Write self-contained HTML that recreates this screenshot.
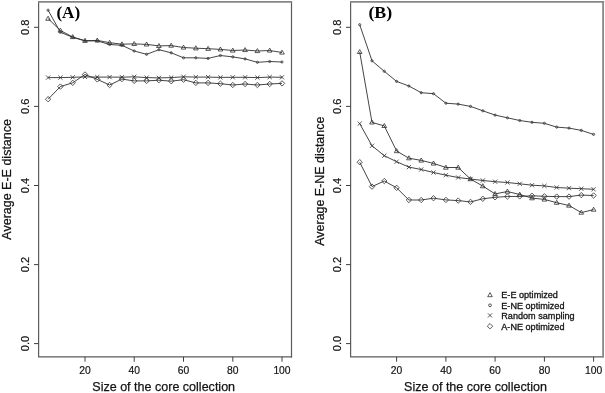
<!DOCTYPE html>
<html><head><meta charset="utf-8"><title>Figure</title>
<style>
html,body{margin:0;padding:0;background:#fff;}
body{width:605px;height:393px;overflow:hidden;}
svg{display:block;will-change:transform;opacity:0.999;font-family:"Liberation Sans",sans-serif;}
svg text{fill:#141414;}
</style></head><body>
<svg width="605" height="393" viewBox="0 0 605 393">
<rect width="605" height="393" fill="#fff"/>
<path d="M38.6 1.0999999999999999V357.5M38.0 356.85H292.1" fill="none" stroke="#5c5c5c" stroke-width="1.2"/>
<path d="M291.5 1.0999999999999999V357.5" fill="none" stroke="#5c5c5c" stroke-width="1.2"/>
<path d="M38.0 1.9H292.1" fill="none" stroke="#868686" stroke-width="1.6"/>
<path d="M34.0 343.6H38.6M34.0 264.6H38.6M34.0 185.5H38.6M34.0 106.4H38.6M34.0 27.3H38.6M85.0 356.85V361.7M134.2 356.85V361.7M183.5 356.85V361.7M232.8 356.85V361.7M282.0 356.85V361.7" fill="none" stroke="#404040" stroke-width="1"/>
<text transform="translate(29.0 343.6) rotate(-90)" text-anchor="middle" font-size="11" stroke="#141414" stroke-width="0.2">0.0</text>
<text transform="translate(29.0 264.6) rotate(-90)" text-anchor="middle" font-size="11" stroke="#141414" stroke-width="0.2">0.2</text>
<text transform="translate(29.0 185.5) rotate(-90)" text-anchor="middle" font-size="11" stroke="#141414" stroke-width="0.2">0.4</text>
<text transform="translate(29.0 106.4) rotate(-90)" text-anchor="middle" font-size="11" stroke="#141414" stroke-width="0.2">0.6</text>
<text transform="translate(29.0 27.3) rotate(-90)" text-anchor="middle" font-size="11" stroke="#141414" stroke-width="0.2">0.8</text>
<text transform="translate(85.0 373.9) scale(0.94 1.05)" text-anchor="middle" font-size="11" stroke="#141414" stroke-width="0.2">20</text>
<text transform="translate(134.2 373.9) scale(0.94 1.05)" text-anchor="middle" font-size="11" stroke="#141414" stroke-width="0.2">40</text>
<text transform="translate(183.5 373.9) scale(0.94 1.05)" text-anchor="middle" font-size="11" stroke="#141414" stroke-width="0.2">60</text>
<text transform="translate(232.8 373.9) scale(0.94 1.05)" text-anchor="middle" font-size="11" stroke="#141414" stroke-width="0.2">80</text>
<text transform="translate(282.0 373.9) scale(0.94 1.05)" text-anchor="middle" font-size="11" stroke="#141414" stroke-width="0.2">100</text>
<text x="163.7" y="391" text-anchor="middle" font-size="12.5" textLength="142.8" lengthAdjust="spacingAndGlyphs" stroke="#141414" stroke-width="0.25">Size of the core collection</text>
<text transform="translate(10.6 179.35) rotate(-90)" text-anchor="middle" font-size="12.5" textLength="120.6" lengthAdjust="spacingAndGlyphs" stroke="#141414" stroke-width="0.25">Average E-E distance</text>
<text x="56.4" y="18.4" font-family="'Liberation Serif', serif" font-weight="bold" font-size="16.5" textLength="23.8" lengthAdjust="spacingAndGlyphs" style="fill:#000">(A)</text>
<polyline points="48.1,77.6 60.4,77.6 72.7,77.3 85.0,76.9 97.3,77.1 109.6,77.1 121.9,77.2 134.2,76.8 146.6,77.6 158.9,77.9 171.2,77.6 183.5,76.8 195.8,77.1 208.1,77.1 220.4,77.4 232.8,77.3 245.1,77.3 257.4,77.6 269.7,77.1 282.0,77.3" fill="none" stroke="#303030" stroke-width="0.9"/><g fill="none" stroke="#303030" stroke-width="0.8"><path d="M46.0 75.5L50.2 79.7M46.0 79.7L50.2 75.5"/><path d="M58.3 75.5L62.5 79.7M58.3 79.7L62.5 75.5"/><path d="M70.6 75.2L74.8 79.4M70.6 79.4L74.8 75.2"/><path d="M82.9 74.8L87.1 79.0M82.9 79.0L87.1 74.8"/><path d="M95.2 75.0L99.4 79.2M95.2 79.2L99.4 75.0"/><path d="M107.5 75.0L111.7 79.2M107.5 79.2L111.7 75.0"/><path d="M119.8 75.1L124.0 79.3M119.8 79.3L124.0 75.1"/><path d="M132.2 74.7L136.3 78.9M132.2 78.9L136.3 74.7"/><path d="M144.5 75.5L148.7 79.7M144.5 79.7L148.7 75.5"/><path d="M156.8 75.8L161.0 80.0M156.8 80.0L161.0 75.8"/><path d="M169.1 75.5L173.3 79.7M169.1 79.7L173.3 75.5"/><path d="M181.4 74.7L185.6 78.9M181.4 78.9L185.6 74.7"/><path d="M193.7 75.0L197.9 79.2M193.7 79.2L197.9 75.0"/><path d="M206.0 75.0L210.2 79.2M206.0 79.2L210.2 75.0"/><path d="M218.3 75.3L222.5 79.5M218.3 79.5L222.5 75.3"/><path d="M230.7 75.2L234.8 79.4M230.7 79.4L234.8 75.2"/><path d="M243.0 75.2L247.2 79.4M243.0 79.4L247.2 75.2"/><path d="M255.3 75.5L259.5 79.7M255.3 79.7L259.5 75.5"/><path d="M267.6 75.0L271.8 79.2M267.6 79.2L271.8 75.0"/><path d="M279.9 75.2L284.1 79.4M279.9 79.4L284.1 75.2"/></g>
<polyline points="48.1,99.2 60.4,86.6 72.7,82.8 85.0,74.5 97.3,79.4 109.6,85.0 121.9,79.1 134.2,80.9 146.6,80.9 158.9,80.2 171.2,81.2 183.5,79.7 195.8,82.9 208.1,82.9 220.4,83.7 232.8,85.0 245.1,84.0 257.4,85.0 269.7,84.0 282.0,83.4" fill="none" stroke="#303030" stroke-width="0.9"/><g fill="none" stroke="#303030" stroke-width="0.8"><path d="M48.1 96.5L50.8 99.2L48.1 101.9L45.4 99.2Z"/><path d="M60.4 83.9L63.1 86.6L60.4 89.3L57.7 86.6Z"/><path d="M72.7 80.1L75.4 82.8L72.7 85.5L70.0 82.8Z"/><path d="M85.0 71.8L87.7 74.5L85.0 77.2L82.3 74.5Z"/><path d="M97.3 76.7L100.0 79.4L97.3 82.1L94.6 79.4Z"/><path d="M109.6 82.3L112.3 85.0L109.6 87.7L106.9 85.0Z"/><path d="M121.9 76.4L124.6 79.1L121.9 81.8L119.2 79.1Z"/><path d="M134.2 78.2L136.9 80.9L134.2 83.6L131.6 80.9Z"/><path d="M146.6 78.2L149.3 80.9L146.6 83.6L143.9 80.9Z"/><path d="M158.9 77.5L161.6 80.2L158.9 82.9L156.2 80.2Z"/><path d="M171.2 78.5L173.9 81.2L171.2 83.9L168.5 81.2Z"/><path d="M183.5 77.0L186.2 79.7L183.5 82.4L180.8 79.7Z"/><path d="M195.8 80.2L198.5 82.9L195.8 85.6L193.1 82.9Z"/><path d="M208.1 80.2L210.8 82.9L208.1 85.6L205.4 82.9Z"/><path d="M220.4 81.0L223.1 83.7L220.4 86.4L217.7 83.7Z"/><path d="M232.8 82.3L235.4 85.0L232.8 87.7L230.1 85.0Z"/><path d="M245.1 81.3L247.8 84.0L245.1 86.7L242.4 84.0Z"/><path d="M257.4 82.3L260.1 85.0L257.4 87.7L254.7 85.0Z"/><path d="M269.7 81.3L272.4 84.0L269.7 86.7L267.0 84.0Z"/><path d="M282.0 80.7L284.7 83.4L282.0 86.1L279.3 83.4Z"/></g>
<polyline points="48.1,10.2 60.4,32.3 72.7,37.3 85.0,40.9 97.3,40.9 109.6,44.5 121.9,45.3 134.2,51.0 146.6,54.3 158.9,49.7 171.2,52.8 183.5,57.8 195.8,57.8 208.1,58.4 220.4,55.5 232.8,56.9 245.1,58.9 257.4,62.3 269.7,61.5 282.0,62.0" fill="none" stroke="#303030" stroke-width="0.9"/><g fill="none" stroke="#303030" stroke-width="0.8"><circle cx="48.1" cy="10.2" r="1.1"/><circle cx="60.4" cy="32.3" r="1.1"/><circle cx="72.7" cy="37.3" r="1.1"/><circle cx="85.0" cy="40.9" r="1.1"/><circle cx="97.3" cy="40.9" r="1.1"/><circle cx="109.6" cy="44.5" r="1.1"/><circle cx="121.9" cy="45.3" r="1.1"/><circle cx="134.2" cy="51.0" r="1.1"/><circle cx="146.6" cy="54.3" r="1.1"/><circle cx="158.9" cy="49.7" r="1.1"/><circle cx="171.2" cy="52.8" r="1.1"/><circle cx="183.5" cy="57.8" r="1.1"/><circle cx="195.8" cy="57.8" r="1.1"/><circle cx="208.1" cy="58.4" r="1.1"/><circle cx="220.4" cy="55.5" r="1.1"/><circle cx="232.8" cy="56.9" r="1.1"/><circle cx="245.1" cy="58.9" r="1.1"/><circle cx="257.4" cy="62.3" r="1.1"/><circle cx="269.7" cy="61.5" r="1.1"/><circle cx="282.0" cy="62.0" r="1.1"/></g>
<polyline points="48.1,18.6 60.4,30.5 72.7,37.0 85.0,40.7 97.3,40.4 109.6,42.7 121.9,44.2 134.2,43.9 146.6,44.4 158.9,45.9 171.2,45.6 183.5,47.5 195.8,48.2 208.1,48.7 220.4,49.4 232.8,50.5 245.1,50.0 257.4,51.0 269.7,50.5 282.0,52.5" fill="none" stroke="#303030" stroke-width="0.9"/><g fill="none" stroke="#303030" stroke-width="0.8"><path d="M48.1 16.2L50.4 20.3L45.7 20.3Z"/><path d="M60.4 28.1L62.7 32.1L58.0 32.1Z"/><path d="M72.7 34.6L75.0 38.6L70.3 38.6Z"/><path d="M85.0 38.3L87.3 42.4L82.7 42.4Z"/><path d="M97.3 38.0L99.7 42.0L95.0 42.0Z"/><path d="M109.6 40.3L112.0 44.4L107.3 44.4Z"/><path d="M121.9 41.8L124.3 45.9L119.6 45.9Z"/><path d="M134.2 41.5L136.6 45.5L131.9 45.5Z"/><path d="M146.6 42.0L148.9 46.0L144.2 46.0Z"/><path d="M158.9 43.5L161.2 47.5L156.5 47.5Z"/><path d="M171.2 43.2L173.5 47.2L168.8 47.2Z"/><path d="M183.5 45.1L185.8 49.1L181.2 49.1Z"/><path d="M195.8 45.8L198.2 49.9L193.5 49.9Z"/><path d="M208.1 46.3L210.5 50.4L205.8 50.4Z"/><path d="M220.4 47.0L222.8 51.0L218.1 51.0Z"/><path d="M232.8 48.1L235.1 52.1L230.4 52.1Z"/><path d="M245.1 47.6L247.4 51.6L242.7 51.6Z"/><path d="M257.4 48.6L259.7 52.6L255.0 52.6Z"/><path d="M269.7 48.1L272.0 52.1L267.3 52.1Z"/><path d="M282.0 50.1L284.3 54.1L279.7 54.1Z"/></g>
<path d="M350.6 1.0999999999999999V357.5M350.0 356.85H603.7" fill="none" stroke="#5c5c5c" stroke-width="1.2"/>
<path d="M603.1 1.0999999999999999V357.5" fill="none" stroke="#8c8c8c" stroke-width="1.9"/>
<path d="M350.0 1.9H604.1" fill="none" stroke="#868686" stroke-width="1.6"/>
<path d="M346.0 343.6H350.6M346.0 264.6H350.6M346.0 185.5H350.6M346.0 106.4H350.6M346.0 27.3H350.6M396.6 356.85V361.7M445.9 356.85V361.7M495.1 356.85V361.7M544.4 356.85V361.7M593.6 356.85V361.7" fill="none" stroke="#404040" stroke-width="1"/>
<text transform="translate(341.0 343.6) rotate(-90)" text-anchor="middle" font-size="11" stroke="#141414" stroke-width="0.2">0.0</text>
<text transform="translate(341.0 264.6) rotate(-90)" text-anchor="middle" font-size="11" stroke="#141414" stroke-width="0.2">0.2</text>
<text transform="translate(341.0 185.5) rotate(-90)" text-anchor="middle" font-size="11" stroke="#141414" stroke-width="0.2">0.4</text>
<text transform="translate(341.0 106.4) rotate(-90)" text-anchor="middle" font-size="11" stroke="#141414" stroke-width="0.2">0.6</text>
<text transform="translate(341.0 27.3) rotate(-90)" text-anchor="middle" font-size="11" stroke="#141414" stroke-width="0.2">0.8</text>
<text transform="translate(396.6 373.9) scale(0.94 1.05)" text-anchor="middle" font-size="11" stroke="#141414" stroke-width="0.2">20</text>
<text transform="translate(445.9 373.9) scale(0.94 1.05)" text-anchor="middle" font-size="11" stroke="#141414" stroke-width="0.2">40</text>
<text transform="translate(495.1 373.9) scale(0.94 1.05)" text-anchor="middle" font-size="11" stroke="#141414" stroke-width="0.2">60</text>
<text transform="translate(544.4 373.9) scale(0.94 1.05)" text-anchor="middle" font-size="11" stroke="#141414" stroke-width="0.2">80</text>
<text transform="translate(593.6 373.9) scale(0.94 1.05)" text-anchor="middle" font-size="11" stroke="#141414" stroke-width="0.2">100</text>
<text x="475.5" y="391" text-anchor="middle" font-size="12.5" textLength="142.8" lengthAdjust="spacingAndGlyphs" stroke="#141414" stroke-width="0.25">Size of the core collection</text>
<text transform="translate(323.7 181.2) rotate(-90)" text-anchor="middle" font-size="12.5" textLength="129.0" lengthAdjust="spacingAndGlyphs" stroke="#141414" stroke-width="0.25">Average E-NE distance</text>
<text x="368.4" y="18.4" font-family="'Liberation Serif', serif" font-weight="bold" font-size="16.5" textLength="23.8" lengthAdjust="spacingAndGlyphs" style="fill:#000">(B)</text>
<polyline points="359.7,123.6 372.0,145.8 384.3,155.7 396.6,161.7 408.9,167.1 421.2,169.5 433.5,172.5 445.9,175.2 458.2,177.5 470.5,179.0 482.8,180.5 495.1,181.7 507.4,182.5 519.7,183.8 532.0,185.2 544.4,185.9 556.7,187.5 569.0,188.2 581.3,188.7 593.6,189.3" fill="none" stroke="#303030" stroke-width="0.9"/><g fill="none" stroke="#303030" stroke-width="0.8"><path d="M357.6 121.5L361.8 125.7M357.6 125.7L361.8 121.5"/><path d="M369.9 143.7L374.1 147.9M369.9 147.9L374.1 143.7"/><path d="M382.2 153.6L386.4 157.8M382.2 157.8L386.4 153.6"/><path d="M394.5 159.6L398.7 163.8M394.5 163.8L398.7 159.6"/><path d="M406.8 165.0L411.0 169.2M406.8 169.2L411.0 165.0"/><path d="M419.1 167.4L423.3 171.6M419.1 171.6L423.3 167.4"/><path d="M431.4 170.4L435.6 174.6M431.4 174.6L435.6 170.4"/><path d="M443.8 173.1L448.0 177.3M443.8 177.3L448.0 173.1"/><path d="M456.1 175.4L460.3 179.6M456.1 179.6L460.3 175.4"/><path d="M468.4 176.9L472.6 181.1M468.4 181.1L472.6 176.9"/><path d="M480.7 178.4L484.9 182.6M480.7 182.6L484.9 178.4"/><path d="M493.0 179.6L497.2 183.8M493.0 183.8L497.2 179.6"/><path d="M505.3 180.4L509.5 184.6M505.3 184.6L509.5 180.4"/><path d="M517.6 181.7L521.8 185.9M517.6 185.9L521.8 181.7"/><path d="M529.9 183.1L534.1 187.3M529.9 187.3L534.1 183.1"/><path d="M542.2 183.8L546.5 188.0M542.2 188.0L546.5 183.8"/><path d="M554.6 185.4L558.8 189.6M554.6 189.6L558.8 185.4"/><path d="M566.9 186.1L571.1 190.3M566.9 190.3L571.1 186.1"/><path d="M579.2 186.6L583.4 190.8M579.2 190.8L583.4 186.6"/><path d="M591.5 187.2L595.7 191.4M591.5 191.4L595.7 187.2"/></g>
<polyline points="359.7,162.2 372.0,186.6 384.3,181.0 396.6,187.8 408.9,200.0 421.2,200.0 433.5,198.2 445.9,199.9 458.2,200.6 470.5,201.9 482.8,198.8 495.1,197.3 507.4,196.5 519.7,196.4 532.0,195.8 544.4,196.3 556.7,196.6 569.0,196.6 581.3,195.1 593.6,195.5" fill="none" stroke="#303030" stroke-width="0.9"/><g fill="none" stroke="#303030" stroke-width="0.8"><path d="M359.7 159.5L362.4 162.2L359.7 164.9L357.0 162.2Z"/><path d="M372.0 183.9L374.7 186.6L372.0 189.3L369.3 186.6Z"/><path d="M384.3 178.3L387.0 181.0L384.3 183.7L381.6 181.0Z"/><path d="M396.6 185.1L399.3 187.8L396.6 190.5L393.9 187.8Z"/><path d="M408.9 197.3L411.6 200.0L408.9 202.7L406.2 200.0Z"/><path d="M421.2 197.3L423.9 200.0L421.2 202.7L418.5 200.0Z"/><path d="M433.5 195.5L436.2 198.2L433.5 200.9L430.8 198.2Z"/><path d="M445.9 197.2L448.6 199.9L445.9 202.6L443.2 199.9Z"/><path d="M458.2 197.9L460.9 200.6L458.2 203.3L455.5 200.6Z"/><path d="M470.5 199.2L473.2 201.9L470.5 204.6L467.8 201.9Z"/><path d="M482.8 196.1L485.5 198.8L482.8 201.5L480.1 198.8Z"/><path d="M495.1 194.6L497.8 197.3L495.1 200.0L492.4 197.3Z"/><path d="M507.4 193.8L510.1 196.5L507.4 199.2L504.7 196.5Z"/><path d="M519.7 193.7L522.4 196.4L519.7 199.1L517.0 196.4Z"/><path d="M532.0 193.1L534.7 195.8L532.0 198.5L529.3 195.8Z"/><path d="M544.4 193.6L547.1 196.3L544.4 199.0L541.6 196.3Z"/><path d="M556.7 193.9L559.4 196.6L556.7 199.3L554.0 196.6Z"/><path d="M569.0 193.9L571.7 196.6L569.0 199.3L566.3 196.6Z"/><path d="M581.3 192.4L584.0 195.1L581.3 197.8L578.6 195.1Z"/><path d="M593.6 192.8L596.3 195.5L593.6 198.2L590.9 195.5Z"/></g>
<polyline points="359.7,24.7 372.0,60.8 384.3,71.3 396.6,81.4 408.9,86.0 421.2,92.7 433.5,93.7 445.9,103.2 458.2,104.1 470.5,106.4 482.8,110.8 495.1,115.1 507.4,117.8 519.7,120.5 532.0,122.3 544.4,123.3 556.7,127.1 569.0,128.1 581.3,130.4 593.6,134.4" fill="none" stroke="#303030" stroke-width="0.9"/><g fill="none" stroke="#303030" stroke-width="0.8"><circle cx="359.7" cy="24.7" r="1.1"/><circle cx="372.0" cy="60.8" r="1.1"/><circle cx="384.3" cy="71.3" r="1.1"/><circle cx="396.6" cy="81.4" r="1.1"/><circle cx="408.9" cy="86.0" r="1.1"/><circle cx="421.2" cy="92.7" r="1.1"/><circle cx="433.5" cy="93.7" r="1.1"/><circle cx="445.9" cy="103.2" r="1.1"/><circle cx="458.2" cy="104.1" r="1.1"/><circle cx="470.5" cy="106.4" r="1.1"/><circle cx="482.8" cy="110.8" r="1.1"/><circle cx="495.1" cy="115.1" r="1.1"/><circle cx="507.4" cy="117.8" r="1.1"/><circle cx="519.7" cy="120.5" r="1.1"/><circle cx="532.0" cy="122.3" r="1.1"/><circle cx="544.4" cy="123.3" r="1.1"/><circle cx="556.7" cy="127.1" r="1.1"/><circle cx="569.0" cy="128.1" r="1.1"/><circle cx="581.3" cy="130.4" r="1.1"/><circle cx="593.6" cy="134.4" r="1.1"/></g>
<polyline points="359.7,51.9 372.0,122.4 384.3,125.9 396.6,151.0 408.9,158.2 421.2,160.4 433.5,163.4 445.9,167.5 458.2,167.5 470.5,179.0 482.8,186.1 495.1,193.9 507.4,191.5 519.7,194.5 532.0,198.1 544.4,199.4 556.7,202.7 569.0,205.5 581.3,212.6 593.6,209.6" fill="none" stroke="#303030" stroke-width="0.9"/><g fill="none" stroke="#303030" stroke-width="0.8"><path d="M359.7 49.5L362.0 53.5L357.3 53.5Z"/><path d="M372.0 120.0L374.3 124.0L369.6 124.0Z"/><path d="M384.3 123.5L386.6 127.5L381.9 127.5Z"/><path d="M396.6 148.6L398.9 152.7L394.3 152.7Z"/><path d="M408.9 155.8L411.3 159.8L406.6 159.8Z"/><path d="M421.2 158.0L423.6 162.1L418.9 162.1Z"/><path d="M433.5 161.0L435.9 165.1L431.2 165.1Z"/><path d="M445.9 165.1L448.2 169.2L443.5 169.2Z"/><path d="M458.2 165.1L460.5 169.2L455.8 169.2Z"/><path d="M470.5 176.6L472.8 180.7L468.1 180.7Z"/><path d="M482.8 183.7L485.1 187.8L480.4 187.8Z"/><path d="M495.1 191.5L497.4 195.6L492.8 195.6Z"/><path d="M507.4 189.1L509.8 193.2L505.1 193.2Z"/><path d="M519.7 192.1L522.1 196.2L517.4 196.2Z"/><path d="M532.0 195.7L534.4 199.8L529.7 199.8Z"/><path d="M544.4 197.0L546.7 201.1L542.0 201.1Z"/><path d="M556.7 200.3L559.0 204.3L554.3 204.3Z"/><path d="M569.0 203.1L571.3 207.2L566.6 207.2Z"/><path d="M581.3 210.2L583.6 214.2L578.9 214.2Z"/><path d="M593.6 207.2L595.9 211.2L591.3 211.2Z"/></g>
<g fill="none" stroke="#303030" stroke-width="0.8"><path d="M490.0 292.6L492.3 296.7L487.7 296.7Z"/><circle cx="490.0" cy="305.3" r="1.4"/><path d="M487.9 313.3L492.1 317.5M487.9 317.5L492.1 313.3"/><path d="M490.0 323.5L492.7 326.2L490.0 328.9L487.3 326.2Z"/></g><text x="501.3" y="298.4" font-size="9.1" stroke="#141414" stroke-width="0.3">E-E optimized</text><text x="501.3" y="308.7" font-size="9.1" stroke="#141414" stroke-width="0.3">E-NE optimized</text><text x="501.3" y="318.8" font-size="9.1" stroke="#141414" stroke-width="0.3">Random sampling</text><text x="501.3" y="329.6" font-size="9.1" stroke="#141414" stroke-width="0.3">A-NE optimized</text>
</svg>
</body></html>
